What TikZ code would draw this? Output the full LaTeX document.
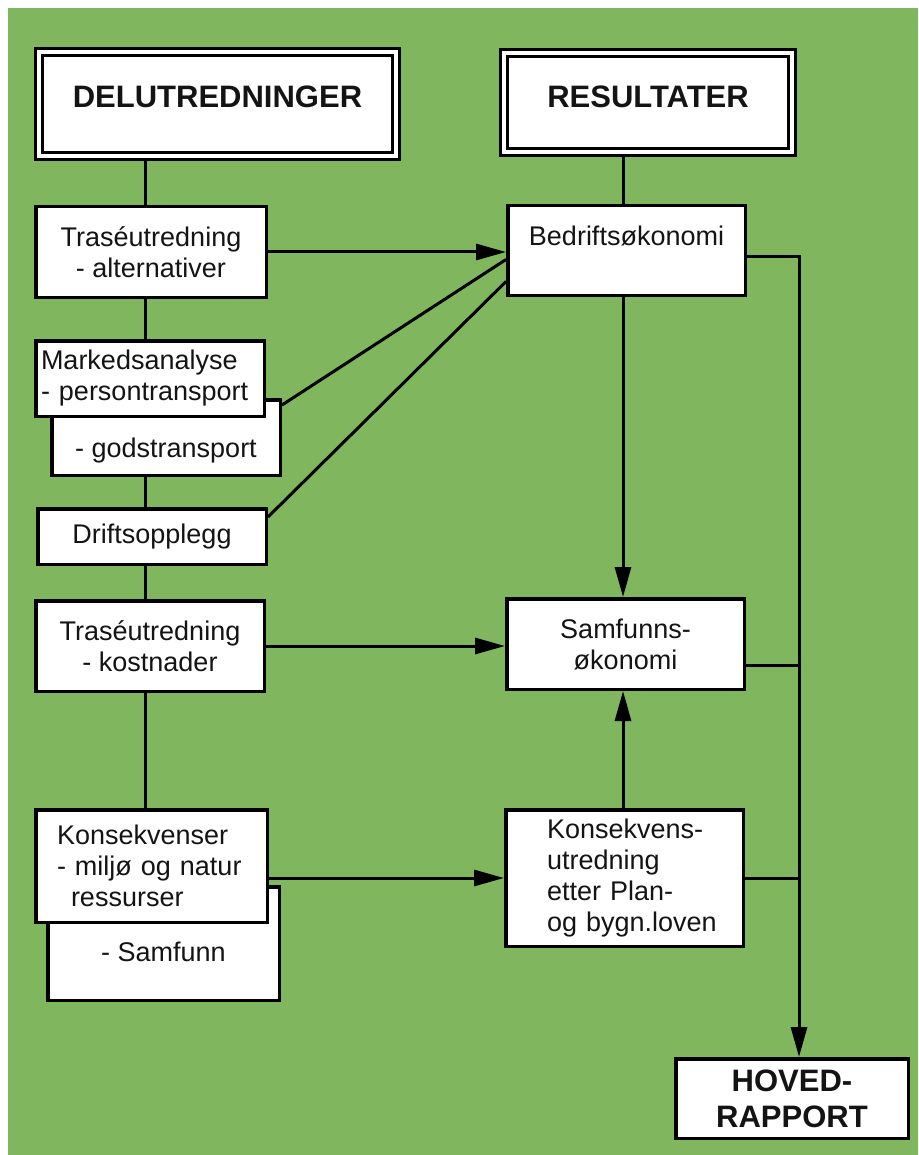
\documentclass[tikz,border=0pt]{standalone}
\usepackage{fontspec}
\setmainfont{Liberation Sans}
\usetikzlibrary{arrows.meta,calc}
\definecolor{bggreen}{RGB}{128,183,94}
\begin{document}
\begin{tikzpicture}[x=1pt,y=-1pt,
  every node/.style={font=\fontsize{27}{31}\selectfont, text=black!92},
  box/.style={draw, line width=3.5pt, fill=white, inner sep=0pt},
  title/.style={draw, line width=2.8pt, double=white, double distance=4.2pt, fill=white, inner sep=0pt, outer sep=4.9pt, font=\fontsize{31}{36}\selectfont\bfseries},
  link/.style={line width=3pt},
  arr/.style={link, -{Triangle[length=30pt,width=16pt]}}]
\useasboundingbox (0,0) rectangle (918,1155);
\fill[white] (0,0) rectangle (918,1155);
\fill[bggreen] (8,8) rectangle (918,1155);
\coordinate (ls) at (145,0);
\coordinate (rs) at (623,0);
\coordinate (rr) at (799,0);
% left column
\node[title, minimum width=357pt, minimum height=104pt, text depth=14pt] (del) at (217.5,104) {DELUTREDNINGER};
\node[box, minimum width=230.5pt, minimum height=90.5pt, align=center] (ta) at (151,252) {Traséutredning\\- alternativer};
\node[box, minimum width=228.5pt, minimum height=75.5pt, text height=44pt, text depth=5pt] (gt) at (166,437.5) {- godstransport};
\node[box, minimum width=228.5pt, minimum height=75.5pt, text width=218pt, align=left] (ma) at (150,378.5) {Markedsanalyse\\- persontransport};
\node[box, minimum width=228.5pt, minimum height=55.5pt] (dr) at (152,536.5) {Driftsopplegg};
\node[box, minimum width=228.5pt, minimum height=90.5pt, align=center] (tk) at (150,646) {Traséutredning\\- kostnader};
\node[box, minimum width=231.5pt, minimum height=113.5pt, text height=36pt] (sa) at (163.5,943.5) {- Samfunn};
\node[box, minimum width=231.5pt, minimum height=112.5pt, text width=189pt, align=left] (ko) at (151.5,866) {Konsekvenser\\- miljø og natur\\\hspace*{14pt}ressurser};
% right column
\node[title, minimum width=288pt, minimum height=99pt, text depth=11pt] (res) at (648,102.5) {RESULTATER};
\node[box, minimum width=237.5pt, minimum height=89.5pt, text depth=29pt] (be) at (626.5,250.5) {Bedriftsøkonomi};
\node[box, minimum width=237.5pt, minimum height=90.5pt, align=center] (so) at (625.5,644) {Samfunns-\\økonomi};
\node[box, minimum width=237.5pt, minimum height=136.5pt, text width=155pt, align=left] (ku) at (624.5,878) {\mbox{Konsekvens-}\\\mbox{utredning}\\\mbox{etter Plan-}\\\mbox{og bygn.loven}};
\node[box, minimum width=232.5pt, minimum height=79.5pt, align=center, font=\fontsize{31}{36}\selectfont\bfseries] (hr) at (792,1098.5) {HOVED-\\RAPPORT};
% left spine
\draw[link] (del.south -| ls) -- (ta.north -| ls);
\draw[link] (ta.south -| ls) -- (ma.north -| ls);
\draw[link] (gt.south -| ls) -- (dr.north -| ls);
\draw[link] (dr.south -| ls) -- (tk.north -| ls);
\draw[link] (tk.south -| ls) -- (ko.north -| ls);
% right spine
\draw[link] (res.south -| rs) -- (be.north -| rs);
\draw[arr] (be.south -| rs) -- (so.north -| rs);
\draw[arr] (ku.north -| rs) -- (so.south -| rs);
% cross links
\draw[arr] (ta.east) -- (ta.east -| be.west);
\draw[link] ($(gt.north east)+(0,7)$) -- ($(be.west)+(0,9)$);
\draw[link] ($(dr.north east)+(0,10)$) -- ($(be.west)+(0,31)$);
\draw[arr] (tk.east) -- (tk.east -| so.west);
\draw[arr] (ko.east |- ku.west) -- (ku.west);
% to main report
\draw[arr] ($(be.east)+(0,6.5)$) -| (hr.north -| rr);
\draw[link] ($(so.east)+(0,21)$) -- ($(so.east -| rr)+(0,21)$);
\draw[link] (ku.east) -- (ku.east -| rr);
\end{tikzpicture}
\end{document}
